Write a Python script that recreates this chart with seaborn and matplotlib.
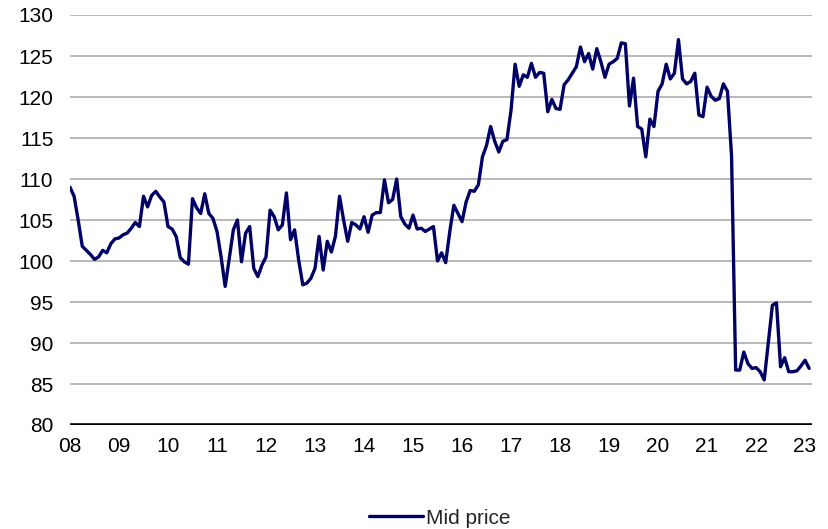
import pandas as pd
import matplotlib.pyplot as plt
import seaborn as sns

# Monthly mid price, Jan 2008 - Feb 2023
mid_2008 = [109.0, 107.9, 105.0, 101.8, 101.3, 100.8, 100.2, 100.5, 101.3, 101.0, 102.1, 102.7]
mid_2009 = [102.8, 103.2, 103.4, 104.0, 104.7, 104.2, 107.9, 106.6, 108.0, 108.5, 107.8, 107.2]
mid_2010 = [104.2, 103.9, 103.0, 100.4, 99.9, 99.6, 107.6, 106.5, 105.8, 108.2, 105.8, 105.2]
mid_2011 = [103.6, 100.5, 96.9, 100.3, 103.8, 105.0, 99.9, 103.4, 104.2, 99.1, 98.1, 99.5]
mid_2012 = [100.5, 106.2, 105.4, 103.8, 104.4, 108.3, 102.6, 103.8, 100.1, 97.1, 97.3, 97.9]
mid_2013 = [99.1, 103.0, 98.9, 102.4, 101.1, 103.0, 107.9, 105.0, 102.4, 104.7, 104.4, 103.9]
mid_2014 = [105.4, 103.5, 105.6, 105.9, 105.9, 109.9, 107.1, 107.5, 110.0, 105.4, 104.5, 104.0]
mid_2015 = [105.6, 103.9, 104.0, 103.6, 103.9, 104.2, 100.0, 101.0, 99.8, 103.6, 106.8, 105.8]
mid_2016 = [104.8, 107.2, 108.6, 108.5, 109.3, 112.7, 114.1, 116.4, 114.6, 113.3, 114.6, 114.8]
mid_2017 = [118.4, 124.0, 121.3, 122.7, 122.4, 124.1, 122.4, 123.0, 122.9, 118.2, 119.7, 118.6]
mid_2018 = [118.5, 121.5, 122.1, 122.9, 123.7, 126.1, 124.3, 125.3, 123.4, 125.9, 124.3, 122.4]
mid_2019 = [124.0, 124.3, 124.7, 126.6, 126.5, 118.9, 122.3, 116.4, 116.1, 112.7, 117.3, 116.4]
mid_2020 = [120.7, 121.6, 124.0, 122.2, 122.9, 127.0, 122.2, 121.6, 121.9, 122.9, 117.8, 117.6]
mid_2021 = [121.2, 120.1, 119.6, 119.8, 121.6, 120.7, 112.8, 86.7, 86.7, 88.9, 87.5, 86.9]
mid_2022 = [87.0, 86.5, 85.5, 90.0, 94.6, 94.9, 87.1, 88.2, 86.5, 86.5, 86.6, 87.2]
mid_2023 = [87.9, 86.9]

year_labels = ['08', '09', '10', '11', '12', '13', '14', '15',
               '16', '17', '18', '19', '20', '21', '22', '23']

mid_price = (mid_2008 + mid_2009 + mid_2010 + mid_2011 + mid_2012 + mid_2013 +
             mid_2014 + mid_2015 + mid_2016 + mid_2017 + mid_2018 + mid_2019 +
             mid_2020 + mid_2021 + mid_2022 + mid_2023)
df = pd.DataFrame({'month': range(len(mid_price)), 'Mid price': mid_price})

sns.set_theme(style='white')
plt.rcParams['font.family'] = ['Liberation Sans', 'DejaVu Sans']

fig = plt.figure(figsize=(8.29, 5.29), dpi=100)
ax = fig.add_axes([70 / 829, 1 - 425 / 529, (812 - 70) / 829, (425 - 15) / 529])

sns.lineplot(data=df, x='month', y='Mid price', ax=ax, color='#000066',
             linewidth=2.4, label='Mid price', legend=False)

ax.set_ylim(80, 130)
ax.set_yticks(range(80, 131, 5))
ax.set_xlim(0, len(mid_price) - 0.3)
ax.set_xticks(range(0, 12 * len(year_labels), 12))
ax.set_xticklabels(year_labels)
ax.grid(axis='y', color='#A6A6A6', linewidth=1.1)
ax.set_axisbelow(True)
ax.axhline(80, color='black', linewidth=2.6, zorder=3)
for s in ['top', 'right', 'left', 'bottom']:
    ax.spines[s].set_visible(False)
ax.tick_params(axis='both', length=0, labelsize=15, colors='black')
ax.tick_params(axis='y', pad=12)
ax.tick_params(axis='x', pad=9)
ax.set_xlabel('')
ax.set_ylabel('')

handles, labels = ax.get_legend_handles_labels()
fig.legend(handles, labels, loc='center', bbox_to_anchor=(440 / 829, 1 - 518 / 529),
           frameon=False, fontsize=15, handlelength=2.6, handletextpad=0.15)

plt.savefig('out.png', dpi=100)
plt.close()
